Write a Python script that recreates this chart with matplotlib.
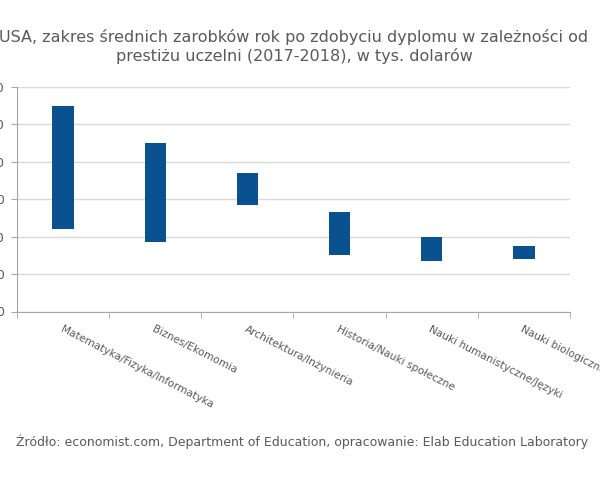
import matplotlib
matplotlib.use("Agg")
import matplotlib.pyplot as plt
import numpy as np

categories = ["Matematyka/Fizyka/Informatyka", "Biznes/Ekomomia", "Architektura/Inżynieria",
              "Historia/Nauki społeczne", "Nauki humanistyczne/Języki", "Nauki biologiczne"]
low_values = [44, 37, 57, 30, 27, 28]
high_values = [110, 90, 74, 53, 40, 35]
y_ticks = [0, 20, 40, 60, 80, 100, 120]

title = "USA, zakres średnich zarobków rok po zdobyciu dyplomu w zależności od\nprestiżu uczelni (2017-2018), w tys. dolarów"
source = "Źródło: economist.com, Department of Education, opracowanie: Elab Education Laboratory"

plt.rcParams['font.family'] = ['DejaVu Sans']

fig = plt.figure(figsize=(6, 4.8), dpi=100)
ax = fig.add_axes([17/600, 1-311.5/480, (570-17)/600, (311.5-87)/480])

x = np.arange(len(categories))
heights = np.array(high_values) - np.array(low_values)
ax.bar(x, heights, bottom=low_values, width=0.23, color="#0a5190", zorder=3)

ax.set_xlim(-0.5, len(categories) - 0.5)
ax.set_ylim(0, 120)
ax.set_yticks(y_ticks)
ax.set_yticklabels([str(v) for v in y_ticks], color="#595959", fontsize=9)
ax.grid(axis="y", color="#d9d9d9", linewidth=1, zorder=0)
ax.set_axisbelow(True)

ax.set_xticks(x)
ax.set_xticklabels(categories, rotation=-27, ha="left", va="top",
                   rotation_mode="anchor", color="#595959", fontsize=7.6)
ax.set_xticks(np.arange(-0.5, len(categories)), minor=True)
ax.tick_params(axis="x", which="major", length=0, pad=9)
ax.tick_params(axis="x", which="minor", length=4, color="#a6a6a6", direction="out")
ax.tick_params(axis="y", length=4, color="#a6a6a6", pad=5)

for s in ["top", "right"]:
    ax.spines[s].set_visible(False)
for s in ["left", "bottom"]:
    ax.spines[s].set_color("#a6a6a6")

fig.text(294/600, 1-46.5/480, title, ha="center", va="center", fontsize=11.5,
         color="#595959", linespacing=1.2)
fig.text(302/600, 1-442/480, source, ha="center", va="center", fontsize=9.0,
         color="#595959")

fig.savefig("out.png", dpi=100)
